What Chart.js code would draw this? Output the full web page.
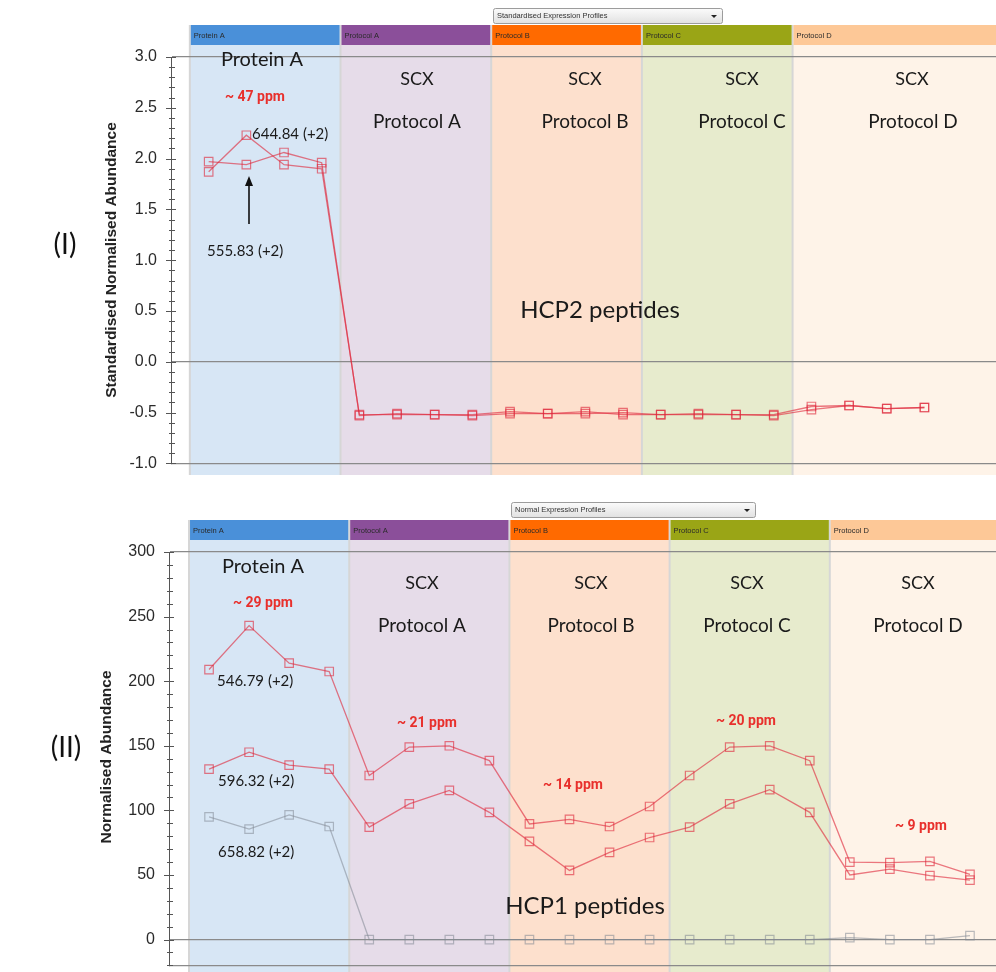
<!DOCTYPE html>
<html>
<head>
<meta charset="utf-8">
<script src="https://cdn.jsdelivr.net/npm/chart.js@4.4.1/dist/chart.umd.min.js"></script>
<style>
  body { margin: 0; background: #fff; width: 996px; height: 972px; position: relative; overflow: hidden; }
  canvas { position: absolute; left: 0; }
  #top { top: 0; }
  #bottom { top: 490px; }
</style>
</head>
<body>
<canvas id="top" width="996" height="487"></canvas>
<canvas id="bottom" width="996" height="499"></canvas>
<script>
// sample groups, 4 runs each
const groups = ['Protein A', 'Protocol A', 'Protocol B', 'Protocol C', 'Protocol D'];
const runsPerGroup = 4;
const headerColors = ['#4a90d9', '#8b4f9a', '#ff6a00', '#9aa516', '#fdc897'];
const bandColors = ['#d7e6f5', '#e6dce9', '#fde0cd', '#e7ebcd', '#fef3e8'];

// (I) HCP2 peptides - standardised normalised abundance
const hcp2_644 = [1.87, 2.23, 1.94, 1.90, -0.52, -0.52, -0.52, -0.52, -0.49, -0.51, -0.49, -0.52, -0.52, -0.52, -0.52, -0.52, -0.44, -0.43, -0.46, -0.45];
const hcp2_555 = [1.97, 1.94, 2.06, 1.96, -0.53, -0.51, -0.52, -0.53, -0.51, -0.51, -0.51, -0.50, -0.52, -0.51, -0.52, -0.53, -0.47, -0.43, -0.46, -0.45];

// (II) HCP1 peptides - normalised abundance
const hcp1_546 = [209, 243, 214, 207.5, 127, 149, 150, 138.5, 89.5, 93, 87.5, 103, 127, 149, 150, 138.5, 60, 59.5, 60.5, 50.5];
const hcp1_596 = [132, 145, 135, 132, 87, 105, 115.5, 98.5, 76, 53.5, 67.5, 79, 87, 105, 116, 98.5, 50, 54.5, 49.5, 46];
const hcp1_658 = [95, 85.5, 96.5, 87.5, 0, 0, 0, 0, 0, 0, 0, 0, 0, 0, 0, 0, 1.5, 0, 0, 3];

const toPts = arr => arr.map((v, i) => ({x: i, y: v}));

function series(label, values, color) {
  return {
    label: label,
    data: toPts(values),
    borderColor: color,
    borderWidth: 1.3,
    pointStyle: 'rect',
    pointRadius: 6,
    pointBorderWidth: 1.2,
    pointBorderColor: color,
    pointBackgroundColor: 'rgba(0,0,0,0)',
    tension: 0
  };
}

function text(ctx, str, x, y, font, color, align) {
  ctx.save();
  ctx.font = font;
  ctx.fillStyle = color || '#1a1a1a';
  ctx.textAlign = align || 'center';
  ctx.textBaseline = 'middle';
  ctx.fillText(str, x, y);
  ctx.restore();
}

// bands, header bars, dropdown behind the plot
const bandsPlugin = {
  id: 'bands',
  beforeDraw(chart, args, o) {
    const ctx = chart.ctx, xs = chart.scales.x, area = chart.chartArea;
    ctx.save();
    const x0 = xs.getPixelForValue(-0.5);
    ctx.fillStyle = '#d6d6d6';
    ctx.fillRect(x0 - 1, o.headerTop, area.right - x0 + 1, o.bandBottom - o.headerTop);
    groups.forEach((g, i) => {
      const l = xs.getPixelForValue(i * runsPerGroup - 0.5) + 1;
      const r = i === groups.length - 1 ? area.right : xs.getPixelForValue(i * runsPerGroup + runsPerGroup - 0.5) - 1;
      ctx.fillStyle = bandColors[i];
      ctx.fillRect(l, o.headerTop, r - l, o.bandBottom - o.headerTop);
      ctx.fillStyle = headerColors[i];
      ctx.fillRect(l, o.headerTop, r - l, 20);
      text(ctx, g, l + 3, o.headerTop + 10.5, '7.5px "Liberation Sans"', '#2a2a2a', 'left');
    });
    // dropdown
    const d = o.dropdown;
    const grad = ctx.createLinearGradient(0, d.y, 0, d.y + 15);
    grad.addColorStop(0, '#fcfcfc');
    grad.addColorStop(1, '#e2e2e2');
    ctx.fillStyle = grad;
    ctx.strokeStyle = '#9c9c9c';
    ctx.lineWidth = 1;
    ctx.beginPath();
    ctx.roundRect(d.x + 0.5, d.y + 0.5, d.w, 15, 2);
    ctx.fill();
    ctx.stroke();
    text(ctx, d.label, d.x + 4, d.y + 8, '7.5px "Liberation Sans"', '#333', 'left');
    ctx.fillStyle = '#222';
    ctx.beginPath();
    ctx.moveTo(d.x + d.w - 11, d.y + 7);
    ctx.lineTo(d.x + d.w - 5, d.y + 7);
    ctx.lineTo(d.x + d.w - 8, d.y + 10);
    ctx.closePath();
    ctx.fill();
    ctx.restore();
  },
  afterDraw(chart, args, o) {
    const ctx = chart.ctx, ys = chart.scales.y;
    const ax = ys.right;
    ctx.save();
    ctx.strokeStyle = '#555';
    ctx.lineWidth = 1;
    ys.ticks.forEach(t => {
      const y = Math.round(ys.getPixelForValue(t.value)) + 0.5;
      const major = t.label !== '';
      ctx.beginPath();
      ctx.moveTo(ax - (major ? 5 : 2), y);
      ctx.lineTo(ax + (major ? 5 : 4), y);
      ctx.stroke();
    });
    ctx.restore();
    // annotations
    o.notes.forEach(n => text(ctx, n.t, n.x, n.y, n.f, n.c, n.a));
    // rotated axis title and panel label
    ctx.save();
    ctx.translate(o.title.x, o.title.y);
    ctx.rotate(-Math.PI / 2);
    text(ctx, o.title.t, 0, 0, 'bold 15.5px "Liberation Sans"', '#222');
    ctx.restore();
    text(ctx, o.panel.t, o.panel.x, o.panel.y, '28px Lato', '#111');
    if (o.arrow) {
      const a = o.arrow;
      ctx.save();
      ctx.strokeStyle = '#111';
      ctx.fillStyle = '#111';
      ctx.lineWidth = 1.6;
      ctx.beginPath();
      ctx.moveTo(a.x, a.y1);
      ctx.lineTo(a.x, a.y2 + 8);
      ctx.stroke();
      ctx.beginPath();
      ctx.moveTo(a.x, a.y2);
      ctx.lineTo(a.x - 4, a.y2 + 10);
      ctx.lineTo(a.x + 4, a.y2 + 10);
      ctx.closePath();
      ctx.fill();
      ctx.restore();
    }
  }
};

const lab = '20px Lato', big = '24px Lato', num = '15px Lato', ppm = 'bold 14px Roboto', red = '#e8302c';

function makeChart(id, datasets, yOpt, layout, plugOpts) {
  return new Chart(document.getElementById(id), {
    type: 'line',
    data: {datasets: datasets},
    plugins: [bandsPlugin],
    options: {
      responsive: false,
      animation: false,
      layout: {padding: layout, autoPadding: false},
      plugins: {legend: {display: false}, tooltip: {enabled: false}, bands: plugOpts},
      scales: {
        x: {type: 'linear', display: false, min: -1, max: yOpt.xMax},
        y: {
          type: 'linear',
          min: yOpt.min, max: yOpt.max,
          afterFit: s => { s.width = yOpt.axisX; },
          border: {display: true, color: '#555', width: 1},
          grid: {
            drawTicks: false,
            color: c => {
              const v = c.tick.value;
              return (Math.abs(v) < 1e-9 || Math.abs(v - yOpt.min) < 1e-9 || Math.abs(v - yOpt.max) < 1e-9) ? '#8a8a8a' : 'rgba(0,0,0,0)';
            },
            lineWidth: 1.3
          },
          ticks: {
            stepSize: yOpt.step,
            autoSkip: false,
            maxTicksLimit: 200,
            padding: 14,
            color: '#2a2a2a',
            font: {family: 'Liberation Sans', size: 16},
            callback: yOpt.label
          }
        }
      }
    }
  });
}

makeChart('top', [
  series('644.84 (+2)', hcp2_644, 'rgba(222,40,60,0.62)'),
  series('555.83 (+2)', hcp2_555, 'rgba(222,40,60,0.62)')
], {
  min: -1, max: 3, step: 0.1, xMax: 20.9, axisX: 171,
  label: v => Math.round(v * 10) % 5 === 0 ? (Math.round(v * 10) / 10).toFixed(1) : ''
}, {top: 57, bottom: 0, left: 0, right: 0}, {
  headerTop: 25, bandBottom: 475,
  dropdown: {x: 493, y: 8, w: 229, label: 'Standardised Expression Profiles'},
  title: {t: 'Standardised Normalised Abundance', x: 112, y: 260},
  panel: {t: '(I)', x: 65, y: 245},
  arrow: {x: 249, y1: 224, y2: 176},
  notes: [
    {t: 'Protein A', x: 262, y: 60, f: lab},
    {t: '~ 47 ppm', x: 255, y: 97, f: ppm, c: red},
    {t: '644.84 (+2)', x: 252, y: 134, f: num, a: 'left'},
    {t: '555.83 (+2)', x: 207, y: 251, f: num, a: 'left'},
    {t: 'SCX', x: 417, y: 79, f: '18px Lato'},
    {t: 'SCX', x: 585, y: 79, f: '18px Lato'},
    {t: 'SCX', x: 742, y: 79, f: '18px Lato'},
    {t: 'SCX', x: 912, y: 79, f: '18px Lato'},
    {t: 'Protocol A', x: 417, y: 122, f: '19px Lato'},
    {t: 'Protocol B', x: 585, y: 122, f: '19px Lato'},
    {t: 'Protocol C', x: 742, y: 122, f: '19px Lato'},
    {t: 'Protocol D', x: 913, y: 122, f: '19px Lato'},
    {t: 'HCP2 peptides', x: 600, y: 310, f: big}
  ]
});

makeChart('bottom', [
  series('658.82 (+2)', hcp1_658, 'rgba(130,136,148,0.55)'),
  series('596.32 (+2)', hcp1_596, 'rgba(222,40,60,0.62)'),
  series('546.79 (+2)', hcp1_546, 'rgba(222,40,60,0.62)')
], {
  min: -20, max: 300, step: 10, xMax: 19.65, axisX: 169,
  label: v => Math.round(v) % 50 === 0 ? String(Math.round(v)) : ''
}, {top: 62, bottom: 0, left: 0, right: 0}, {
  headerTop: 30, bandBottom: 482,
  dropdown: {x: 511, y: 12, w: 244, label: 'Normal Expression Profiles'},
  title: {t: 'Normalised Abundance', x: 107, y: 267},
  panel: {t: '(II)', x: 66, y: 258},
  notes: [
    {t: 'Protein A', x: 263, y: 77, f: lab},
    {t: '~ 29 ppm', x: 263, y: 113, f: ppm, c: red},
    {t: '546.79 (+2)', x: 217, y: 191, f: num, a: 'left'},
    {t: '596.32 (+2)', x: 218, y: 291, f: num, a: 'left'},
    {t: '658.82 (+2)', x: 218, y: 362, f: num, a: 'left'},
    {t: '~ 21 ppm', x: 427, y: 233, f: ppm, c: red},
    {t: '~ 14 ppm', x: 573, y: 295, f: ppm, c: red},
    {t: '~ 20 ppm', x: 746, y: 231, f: ppm, c: red},
    {t: '~ 9 ppm', x: 921, y: 336, f: ppm, c: red},
    {t: 'SCX', x: 422, y: 93, f: '18px Lato'},
    {t: 'SCX', x: 591, y: 93, f: '18px Lato'},
    {t: 'SCX', x: 747, y: 93, f: '18px Lato'},
    {t: 'SCX', x: 918, y: 93, f: '18px Lato'},
    {t: 'Protocol A', x: 422, y: 136, f: '19px Lato'},
    {t: 'Protocol B', x: 591, y: 136, f: '19px Lato'},
    {t: 'Protocol C', x: 747, y: 136, f: '19px Lato'},
    {t: 'Protocol D', x: 918, y: 136, f: '19px Lato'},
    {t: 'HCP1 peptides', x: 585, y: 416, f: big}
  ]
});
</script>
</body>
</html>
